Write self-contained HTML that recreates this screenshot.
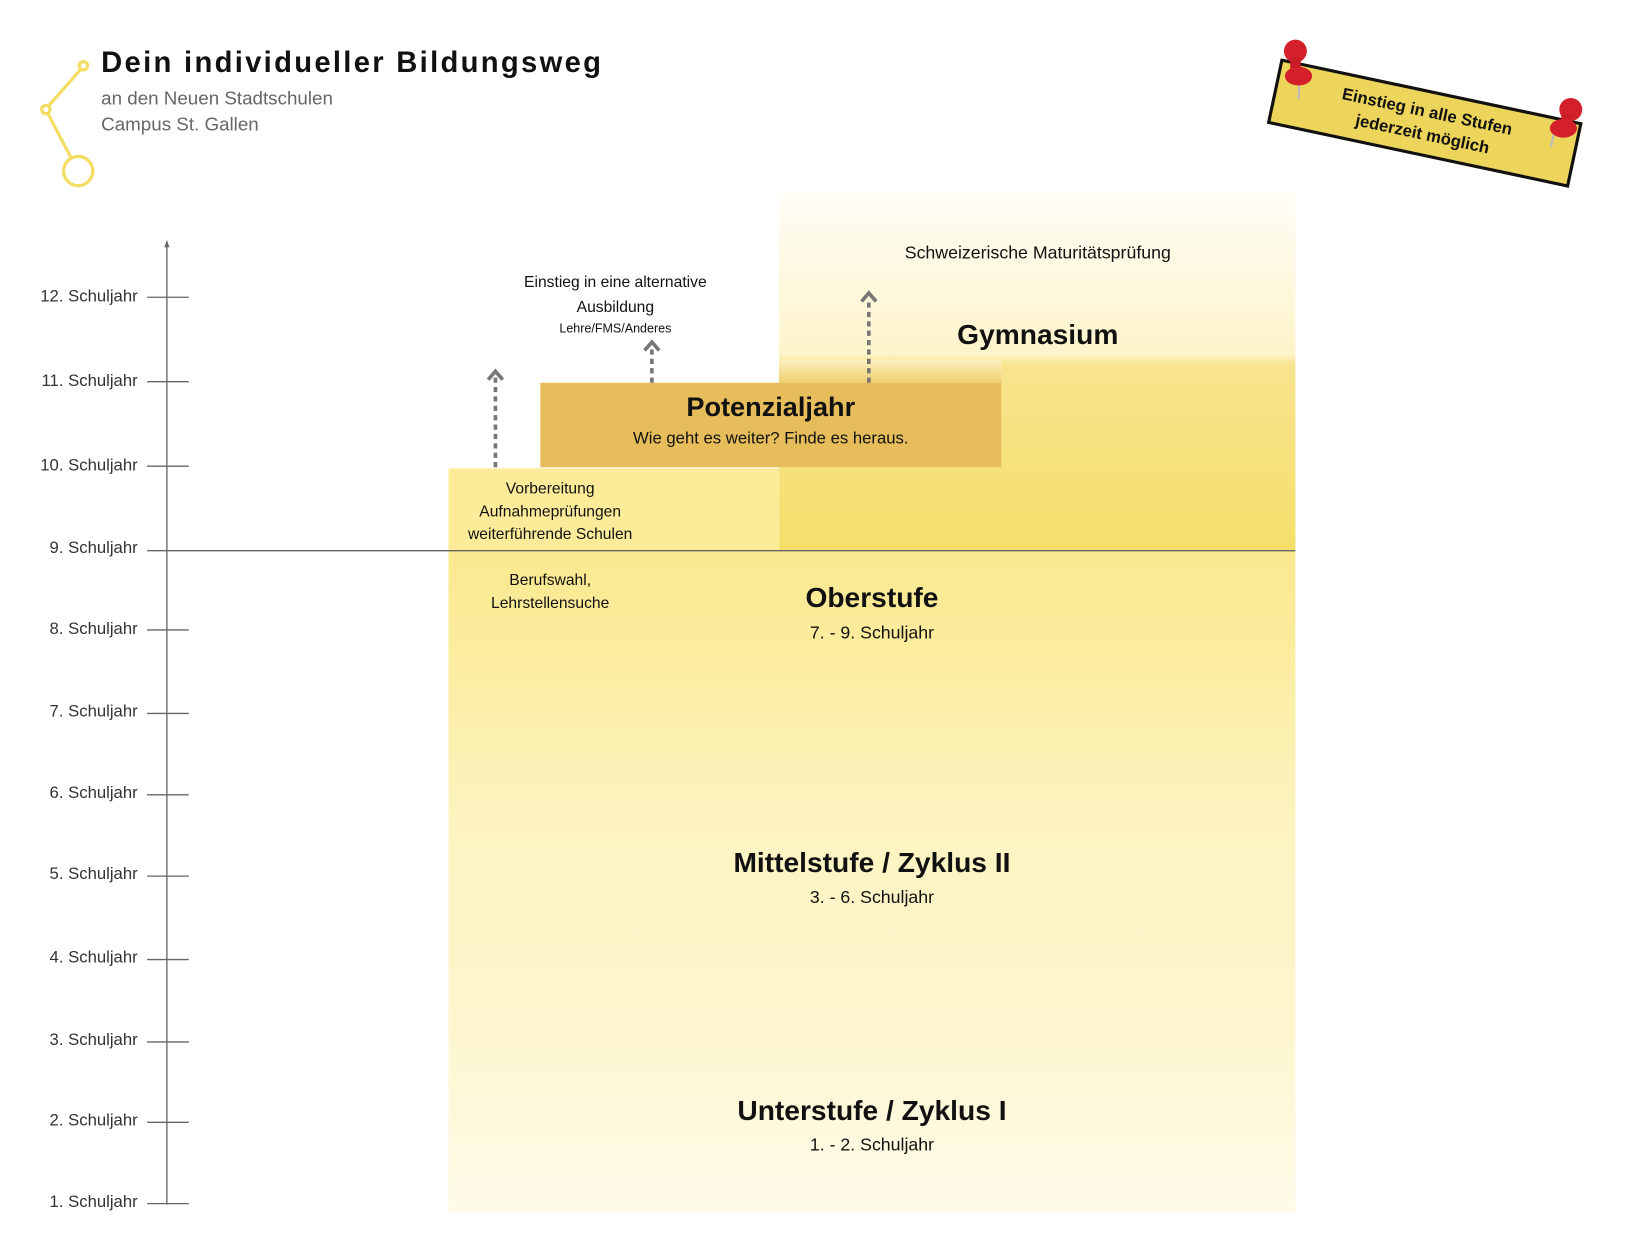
<!DOCTYPE html>
<html><head><meta charset="utf-8"><style>
body{margin:0;width:1627px;height:1252px;overflow:hidden;background:#fff;font-family:"Liberation Sans","DejaVu Sans",sans-serif}
#w{position:absolute;left:0;top:0;width:1560px;height:1200px;transform:scale(1.043);transform-origin:0 0}
.a{position:absolute}
.c{position:absolute;text-align:center;color:#111}
.lab{position:absolute;right:1428px;font-size:16px;color:#333;width:130px;text-align:right}
</style></head><body><div id="w">
<div class="a" style="left:747px;top:185px;width:495px;height:343px;background:linear-gradient(#fffdf6 0%,#fdf4cb 45%,#f8e48e 48%,#f4df6a 100%)"></div>
<div class="a" style="left:430px;top:528px;width:812px;height:634px;background:linear-gradient(#fbe98f 0%,#fbec9e 15%,#fcf3bf 40%,#fdf6cf 72%,#fefbe9 100%)"></div>
<div class="a" style="left:430px;top:449px;width:317px;height:79px;background:#fcec9a"></div>
<div class="a" style="left:747px;top:345px;width:213px;height:22px;background:linear-gradient(#fbf0c0,#efcf6c)"></div>
<div class="a" style="left:518px;top:367px;width:442px;height:81px;background:#e6bd5a"></div>
<svg class="a" style="left:0;top:0" width="1560" height="1200">
<g stroke="#f3dc5f" stroke-width="3" fill="none"><circle cx="80" cy="63" r="4"/><circle cx="44" cy="105" r="4"/><circle cx="75" cy="164" r="14"/><line x1="77" y1="67" x2="47" y2="101"/><line x1="46" y1="109" x2="68" y2="151"/></g>
<g stroke="#666" stroke-width="1.3"><line x1="160" y1="234" x2="160" y2="1155"/>
<line x1="141" y1="285" x2="181" y2="285"/><line x1="141" y1="366" x2="181" y2="366"/><line x1="141" y1="447" x2="181" y2="447"/><line x1="141" y1="604" x2="181" y2="604"/><line x1="141" y1="684" x2="181" y2="684"/><line x1="141" y1="762" x2="181" y2="762"/><line x1="141" y1="840" x2="181" y2="840"/><line x1="141" y1="920" x2="181" y2="920"/><line x1="141" y1="999" x2="181" y2="999"/><line x1="141" y1="1076" x2="181" y2="1076"/><line x1="141" y1="1154" x2="181" y2="1154"/>
<line x1="141" y1="528" x2="1242" y2="528"/></g>
<polygon points="160,230 157.5,237 162.5,237" fill="#666"/>
<g stroke="#777" stroke-width="3.5" stroke-dasharray="5,4" fill="none"><line x1="475" y1="448" x2="475" y2="362"/><line x1="625" y1="367" x2="625" y2="334"/><line x1="833" y1="367" x2="833" y2="287"/></g>
<g stroke="#777" stroke-width="3.5" fill="none"><polyline points="468,364 475,356 482,364"/><polyline points="618,336 625,328 632,336"/><polyline points="826,289 833,281 840,289"/></g>
</svg>
<div class="a" style="left:97px;top:44px;font-size:28px;font-weight:bold;letter-spacing:2.2px;color:#111">Dein individueller Bildungsweg</div>
<div class="a" style="left:97px;top:82px;font-size:18px;color:#666;line-height:25px">an den Neuen Stadtschulen<br>Campus St. Gallen</div>
<div class="lab" style="top:276px">12. Schuljahr</div><div class="lab" style="top:357px">11. Schuljahr</div><div class="lab" style="top:438px">10. Schuljahr</div><div class="lab" style="top:517px">9. Schuljahr</div><div class="lab" style="top:595px">8. Schuljahr</div><div class="lab" style="top:674px">7. Schuljahr</div><div class="lab" style="top:752px">6. Schuljahr</div><div class="lab" style="top:830px">5. Schuljahr</div><div class="lab" style="top:910px">4. Schuljahr</div><div class="lab" style="top:989px">3. Schuljahr</div><div class="lab" style="top:1066px">2. Schuljahr</div><div class="lab" style="top:1144px">1. Schuljahr</div>
<div class="c" style="left:745px;width:500px;top:233px;font-size:17px">Schweizerische Maturitätsprüfung</div>
<div class="c" style="left:745px;width:500px;top:306px;font-size:27px;font-weight:bold">Gymnasium</div>
<div class="c" style="left:440px;width:300px;top:259px;font-size:15px;line-height:24px">Einstieg in eine alternative<br>Ausbildung</div>
<div class="c" style="left:440px;width:300px;top:308px;font-size:12px">Lehre/FMS/Anderes</div>
<div class="c" style="left:518px;width:442px;top:375px;font-size:26px;font-weight:bold">Potenzialjahr</div>
<div class="c" style="left:518px;width:442px;top:412px;font-size:16px">Wie geht es weiter? Finde es heraus.</div>
<div class="c" style="left:400px;width:255px;top:458px;font-size:15px;line-height:22px">Vorbereitung<br>Aufnahmeprüfungen<br>weiterführende Schulen</div>
<div class="c" style="left:400px;width:255px;top:546px;font-size:15px;line-height:22px">Berufswahl,<br>Lehrstellensuche</div>
<div class="c" style="left:586px;width:500px;top:558px;font-size:27px;font-weight:bold">Oberstufe</div>
<div class="c" style="left:586px;width:500px;top:597px;font-size:17px">7. - 9. Schuljahr</div>
<div class="c" style="left:536px;width:600px;top:812px;font-size:27px;font-weight:bold">Mittelstufe / Zyklus II</div>
<div class="c" style="left:536px;width:600px;top:851px;font-size:17px">3. - 6. Schuljahr</div>
<div class="c" style="left:536px;width:600px;top:1050px;font-size:27px;font-weight:bold">Unterstufe / Zyklus I</div>
<div class="c" style="left:536px;width:600px;top:1088px;font-size:17px">1. - 2. Schuljahr</div>
<div class="a" style="left:1218px;top:86px;width:296px;height:64px;background:#ecd55a;border:3px solid #111;transform:rotate(12deg);text-align:center;font-weight:bold;font-size:16px;line-height:22px;padding-top:8px;box-sizing:border-box;color:#111">Einstieg in alle Stufen<br>jederzeit möglich</div>
<svg class="a" style="left:1220px;top:35px" width="320" height="120">
<line x1="26" y1="42" x2="25" y2="60" stroke="#bbb" stroke-width="2"/><circle cx="22" cy="14" r="11" fill="#d4202a"/><rect x="17" y="20" width="10" height="14" fill="#c81d26"/><ellipse cx="25" cy="38" rx="13" ry="9" fill="#d4202a"/>
<line x1="270" y1="92" x2="267" y2="106" stroke="#bbb" stroke-width="2"/><circle cx="286" cy="70" r="11" fill="#d4202a"/><rect x="277" y="75" width="10" height="12" fill="#c81d26"/><ellipse cx="279" cy="88" rx="13" ry="9" fill="#d4202a"/>
</svg>
</div></body></html>
